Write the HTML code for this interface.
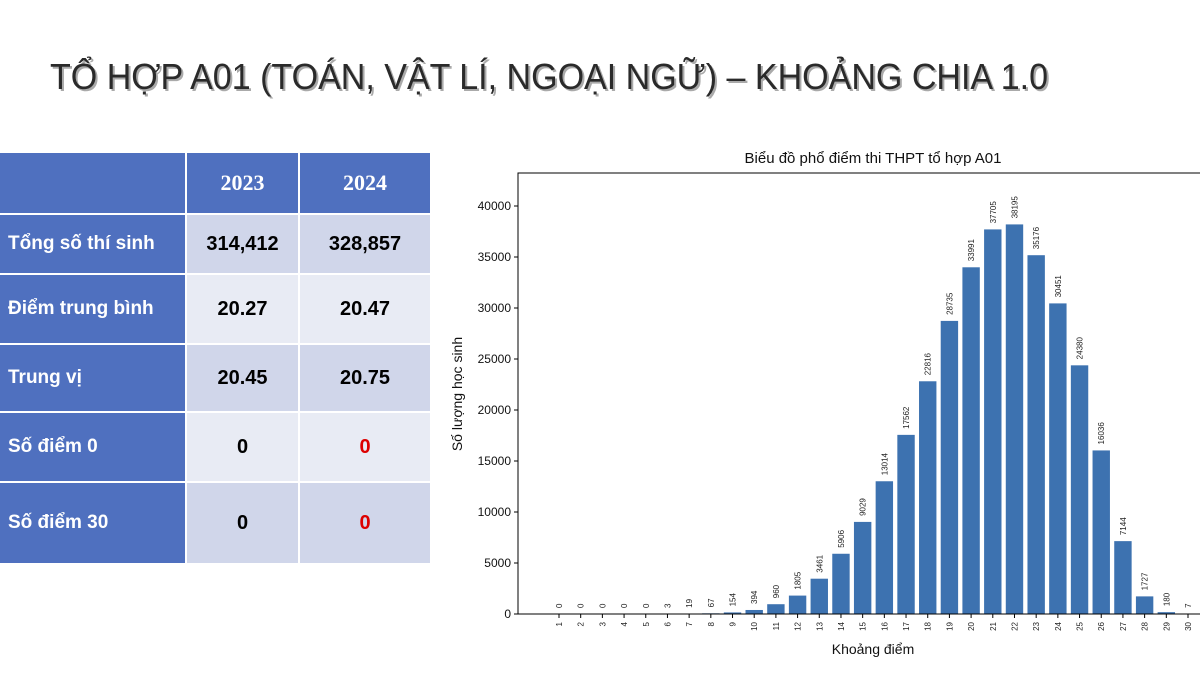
<!DOCTYPE html>
<html><head><meta charset="utf-8">
<style>
body{margin:0;width:1200px;height:675px;background:#fff;overflow:hidden;position:relative;font-family:"Liberation Sans",sans-serif}
table{position:absolute;left:-2px;top:151px;border-collapse:collapse}
td{border:2px solid #fff;padding:0;font-weight:bold}
.lab{background:#4f70bf;color:#fff;font-size:19px;padding-left:8px;width:177px}
.hd{background:#4f70bf;color:#fff;font-family:"Liberation Serif",serif;font-size:22px;text-align:center}
.d{text-align:center;font-size:20px;color:#000}
.a{background:#d0d6ea}.b{background:#e8ebf4}
.red{color:#d00}
</style></head><body>
<svg style="position:absolute;left:0;top:0" width="1200" height="130">
<text x="52" y="91" fill="#aaa" font-size="36" textLength="998" lengthAdjust="spacingAndGlyphs" font-family="Liberation Sans, sans-serif">TỔ HỢP A01 (TOÁN, VẬT LÍ, NGOẠI NGỮ) – KHOẢNG CHIA 1.0</text>
<text x="50" y="89" fill="#2a2a2a" font-size="36" textLength="998" lengthAdjust="spacingAndGlyphs" font-family="Liberation Sans, sans-serif">TỔ HỢP A01 (TOÁN, VẬT LÍ, NGOẠI NGỮ) – KHOẢNG CHIA 1.0</text>
</svg>
<table>
<tr style="height:62px"><td class="lab"></td><td class="hd" style="width:111px">2023</td><td class="hd" style="width:130px">2024</td></tr>
<tr style="height:60px"><td class="lab">Tổng số thí sinh</td><td class="d a">314,412</td><td class="d a">328,857</td></tr>
<tr style="height:70px"><td class="lab">Điểm trung bình</td><td class="d b">20.27</td><td class="d b">20.47</td></tr>
<tr style="height:68px"><td class="lab">Trung vị</td><td class="d a">20.45</td><td class="d a">20.75</td></tr>
<tr style="height:70px"><td class="lab">Số điểm 0</td><td class="d b">0</td><td class="d b red">0</td></tr>
<tr style="height:82px"><td class="lab">Số điểm 30</td><td class="d a">0</td><td class="d a red">0</td></tr>
</table>
<svg id="chart" style="position:absolute;left:0;top:0" width="1200" height="675"></svg>
<script>
const categories=[1,2,3,4,5,6,7,8,9,10,11,12,13,14,15,16,17,18,19,20,21,22,23,24,25,26,27,28,29,30];
const counts=[0,0,0,0,0,3,19,67,154,394,960,1805,3461,5906,9029,13014,17562,22816,28735,33991,37705,38195,35176,30451,24380,16036,7144,1727,180,7];
const yTicks=[0,5000,10000,15000,20000,25000,30000,35000,40000];
const svg=document.getElementById('chart');const NS='http://www.w3.org/2000/svg';
const L=518,R=1200,T=173,B=614;
const y=v=>B-v*(B-206)/40000;
const x=c=>559+(c-1)*(1188-559)/29;
const bw=17.4;
function mk(t,a,txt){const e=document.createElementNS(NS,t);for(const k in a)e.setAttribute(k,a[k]);if(txt!==undefined)e.textContent=txt;svg.appendChild(e);return e;}
let e;
e=mk('text',{x:873,y:163,'text-anchor':'middle','font-size':15,fill:'#111'},'Biểu đồ phổ điểm thi THPT tổ hợp A01');


categories.forEach((c,i)=>{
 e=mk('rect',{x:x(c)-bw/2,y:y(counts[i]),width:bw,height:B-y(counts[i]),fill:'#3d72b0'});
 
 
 const ly=y(counts[i])-6;
 e=mk('text',{x:x(c)+3,y:ly,'font-size':8,fill:'#222',transform:`rotate(-90 ${x(c)+3} ${ly})`},String(counts[i]));
 
 
 mk('line',{x1:x(c),x2:x(c),y1:B,y2:B+4,stroke:'#000'});
 const ty=B+8;
 e=mk('text',{x:x(c)+3,y:ty,'font-size':8,fill:'#222','text-anchor':'end',transform:`rotate(-90 ${x(c)+3} ${ty})`},String(c));
 
 
});
yTicks.forEach(v=>{
 mk('line',{x1:L-4,x2:L,y1:y(v),y2:y(v),stroke:'#000'});
 e=mk('text',{x:L-7,y:y(v)+4,'text-anchor':'end','font-size':12,fill:'#111'},String(v));
 
 
});
mk('rect',{x:L,y:T,width:R-L+2,height:B-T,fill:'none',stroke:'#000','stroke-width':1});
e=mk('text',{x:873,y:654,'text-anchor':'middle','font-size':14,fill:'#111'},'Khoảng điểm');


e=mk('text',{x:462,y:394,'text-anchor':'middle','font-size':14,fill:'#111',transform:'rotate(-90 462 394)'},'Số lượng học sinh');


</script>
</body></html>
